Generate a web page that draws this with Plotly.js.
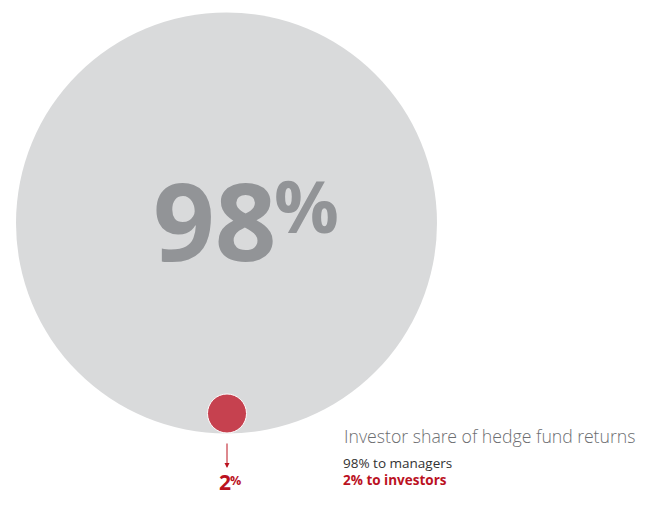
<!DOCTYPE html>
<html>
<head>
<meta charset="utf-8">
<script src="https://cdn.plot.ly/plotly-3.0.1.min.js"></script>
<style>html,body{margin:0;padding:0;background:#fff;}#chart{width:670px;height:516px;}</style>
</head>
<body>
<div id="chart"></div>
<script>
// ---- data ----
const groups = ['managers', 'investors'];
const shares = [98, 2];
const title = 'Investor share of hedge fund returns';

// ---- styling ----
const fills = ['#d9dadb', '#c6414f'];
const textColors = ['#929497', '#bb121f'];
const legendColors = ['#333333', '#bb121f'];
const FONT = 'Open Sans, Noto Sans, sans-serif';

// geometry (pixel space, axes map 1:1 to pixels)
const W = 670, H = 516;
const bigR = 210.5, cx = 226.5, cy = 223;
const smallR = 19.5;
const radii = [bigR, smallR];
const xs = [cx, cx + 0.5];
const ys = [cy, cy + bigR - smallR - 0.5];

const trace = {
  type: 'scatter', mode: 'markers',
  x: xs, y: ys,
  marker: {
    size: radii.map(r => 2 * r),
    color: fills,
    opacity: 1,
    line: {color: ['rgba(0,0,0,0)', '#ffffff'], width: [0, 1]}
  },
  hoverinfo: 'skip'
};

const annotations = [
  // big percent
  {x: 215, y: 219.5, xref: 'x', yref: 'y', text: '<b>' + shares[0] + '</b>', showarrow: false,
   font: {family: FONT, size: 108, color: textColors[0]}, xanchor: 'center', yanchor: 'middle'},
  {x: 306, y: 205, xref: 'x', yref: 'y', text: '<b>%</b>', showarrow: false,
   font: {family: FONT, size: 72, color: textColors[0]}, xanchor: 'center', yanchor: 'middle'},
  // arrow
  {x: xs[1], y: 468, ax: 0, ay: -26, axref: 'pixel', ayref: 'pixel', xref: 'x', yref: 'y', text: '',
   showarrow: true, arrowhead: 2, arrowsize: 1, arrowwidth: 1, arrowcolor: textColors[1]},
  // small percent
  {x: 224.5, y: 482, xref: 'x', yref: 'y', text: '<b>' + shares[1] + '</b>', showarrow: false,
   font: {family: FONT, size: 21, color: textColors[1]}, xanchor: 'center', yanchor: 'middle', borderpad: 0},
  {x: 235.5, y: 480.5, xref: 'x', yref: 'y', text: '<b>%</b>', showarrow: false,
   font: {family: FONT, size: 12.5, color: textColors[1]}, xanchor: 'center', yanchor: 'middle', borderpad: 0},
  // title & legend
  {x: 342, y: 436, xref: 'x', yref: 'y', text: title, showarrow: false,
   font: {family: 'Open Sans Light, Open Sans, sans-serif', size: 17.7, color: '#6d6e71', weight: 300},
   xanchor: 'left', yanchor: 'middle'},
  {x: 342, y: 462.5, xref: 'x', yref: 'y', text: shares[0] + '% to ' + groups[0], showarrow: false,
   font: {family: FONT, size: 13.5, color: legendColors[0]}, xanchor: 'left', yanchor: 'middle', borderpad: 0},
  {x: 342, y: 479.5, xref: 'x', yref: 'y', text: '<b>' + shares[1] + '% to ' + groups[1] + '</b>', showarrow: false,
   font: {family: FONT, size: 13.5, color: legendColors[1]}, xanchor: 'left', yanchor: 'middle', borderpad: 0}
];

const layout = {
  width: W, height: H,
  margin: {l: 0, r: 0, t: 0, b: 0, pad: 0},
  paper_bgcolor: '#ffffff', plot_bgcolor: '#ffffff',
  xaxis: {range: [0, W], visible: false, fixedrange: true},
  yaxis: {range: [H, 0], visible: false, fixedrange: true},
  showlegend: false,
  annotations: annotations
};

Plotly.newPlot('chart', [trace], layout, {displayModeBar: false, staticPlot: true});
</script>
</body>
</html>
